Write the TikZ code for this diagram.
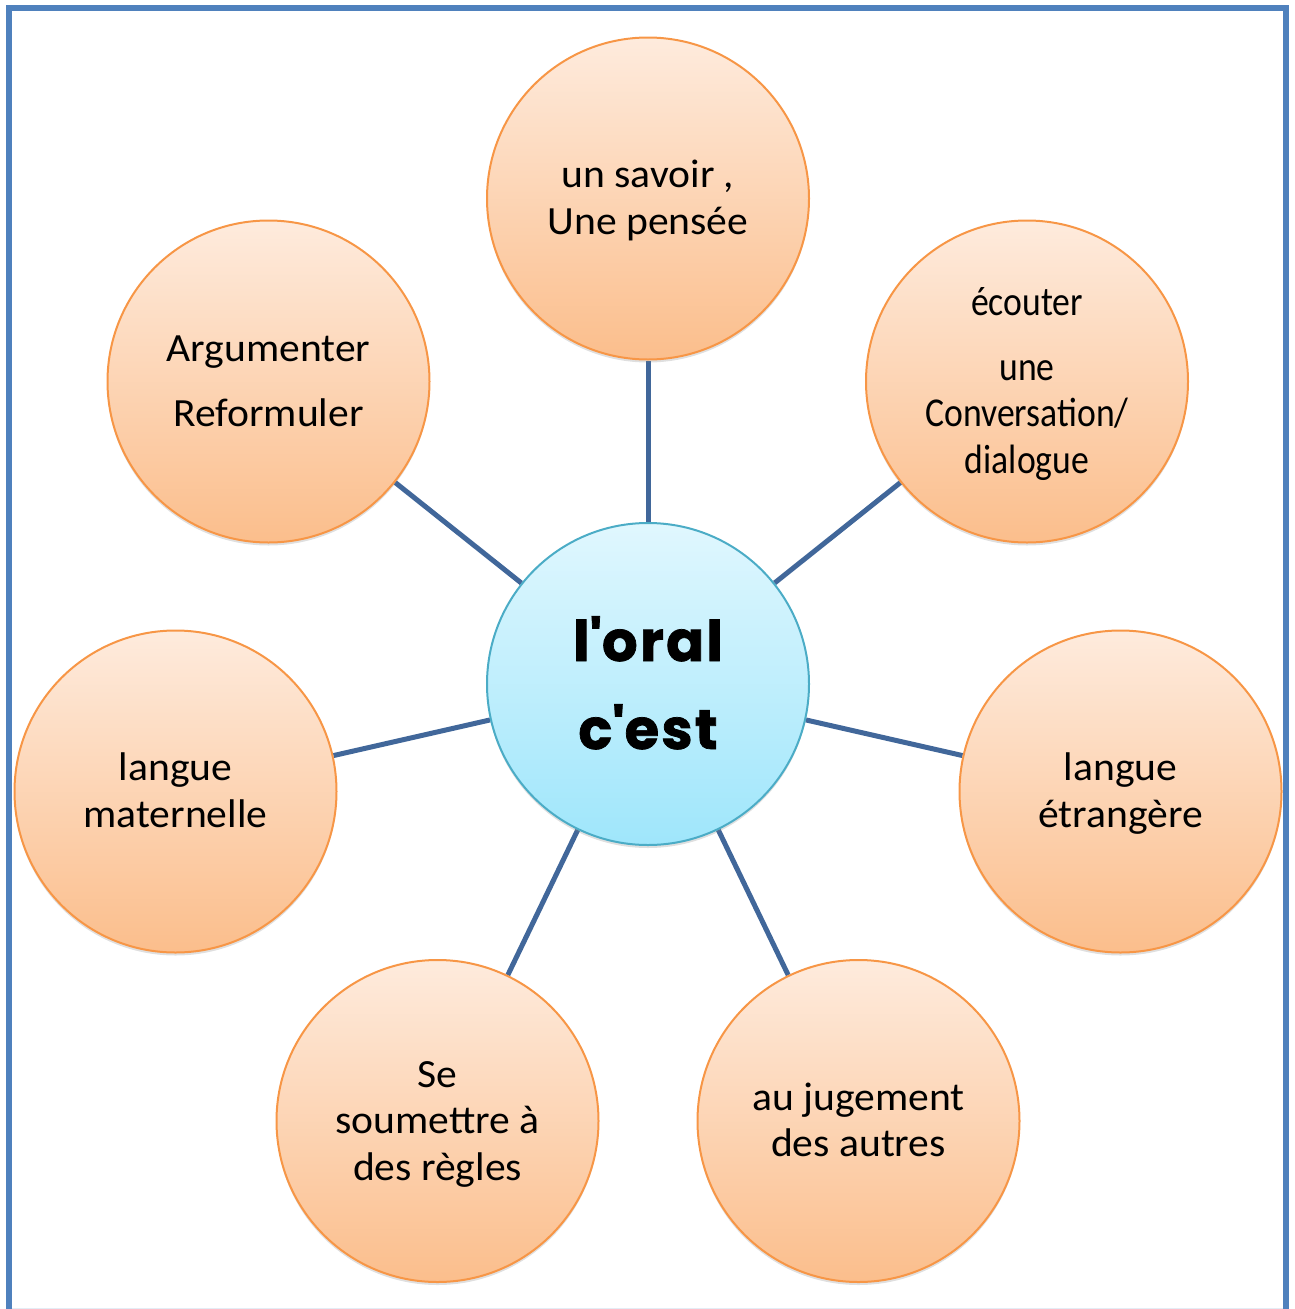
\documentclass[tikz,border=0pt]{standalone}
\usepackage{fontspec}
\setmainfont{Carlito}
\newfontfamily\bubblefont{Carlito}[FakeStretch=1.04]
\newfontfamily\narrowfont{Carlito}[FakeStretch=0.87]
\newfontfamily\centerfont{Poppins}[LetterSpace=4, FakeBold=1.3]
\usetikzlibrary{shadows,backgrounds}
\definecolor{orngB}{HTML}{F79646}
\definecolor{orngT}{HTML}{FEEBDD}
\definecolor{orngBot}{HTML}{FBBE8C}
\definecolor{cyanB}{HTML}{4BACC6}
\definecolor{cyanT}{HTML}{E0F7FE}
\definecolor{cyanBot}{HTML}{9FE6FB}
\definecolor{linkc}{HTML}{41679A}
\definecolor{framec}{HTML}{4F81BD}
\newcommand\topstrut{\rule{0pt}{33pt}}
\newcommand\botstrut{\rule[-8pt]{0pt}{8pt}}
\begin{document}
\begin{tikzpicture}[x=1pt,y=-1pt,
  bubble/.style={circle, draw=orngB, line width=2pt, top color=orngT, bottom color=orngBot,
    minimum size=322pt, inner sep=0pt, align=center,
    font=\bubblefont\fontsize{40pt}{46.5pt}\selectfont,
    drop shadow={shadow xshift=0pt, shadow yshift=-3pt, opacity=0.25, fill=black!50}},
  narrowtext/.style={font=\narrowfont\fontsize{41pt}{46.5pt}\selectfont},
  hub/.style={circle, draw=cyanB, line width=2pt, top color=cyanT, bottom color=cyanBot,
    minimum size=322pt, inner sep=0pt, align=center,
    font=\centerfont\bfseries\fontsize{56pt}{88pt}\selectfont,
    drop shadow={shadow xshift=0pt, shadow yshift=-3pt, opacity=0.25, fill=black!50}},
  link/.style={draw=linkc, line width=5pt},
  frameline/.style={draw=framec, line width=6pt}]
\useasboundingbox (0,0) rectangle (1295,1309);
\draw[frameline] (9,1309) -- (9,8) -- (1286,8) -- (1286,1309);
\draw[framec!15, line width=1pt] (12,1308) -- (1283,1308);

\node[hub] (c) at (648,684) {\rule{0pt}{50pt}l\textquotesingle oral\\c\textquotesingle est\rule[-8pt]{0pt}{8pt}};
\node[bubble] (t) at (648,198.5) {\topstrut un savoir ,\\Une pensée\botstrut};
\node[bubble, narrowtext] (tr) at (1027,381.5) {\topstrut écouter\\[18.5pt]une\\Conversation/\\dialogue\botstrut};
\node[bubble] (tl) at (268.5,381.5) {\topstrut Argumenter\\[18.5pt]Reformuler\botstrut};
\node[bubble] (r) at (1120.5,791.5) {\topstrut langue\\étrangère\botstrut};
\node[bubble] (l) at (175.5,791.5) {\topstrut langue\\maternelle\botstrut};
\node[bubble] (br) at (858.5,1121) {\topstrut au jugement\\des autres\botstrut};
\node[bubble] (bl) at (437.5,1121) {\topstrut Se\\soumettre à\\des règles\botstrut};

\begin{pgfonlayer}{background}
\draw[link] (c) -- (t);
\draw[link] (c) -- (tr);
\draw[link] (c) -- (tl);
\draw[link] (c) -- (r);
\draw[link] (c) -- (l);
\draw[link] (c) -- (br);
\draw[link] (c) -- (bl);
\end{pgfonlayer}
\end{tikzpicture}
\end{document}
